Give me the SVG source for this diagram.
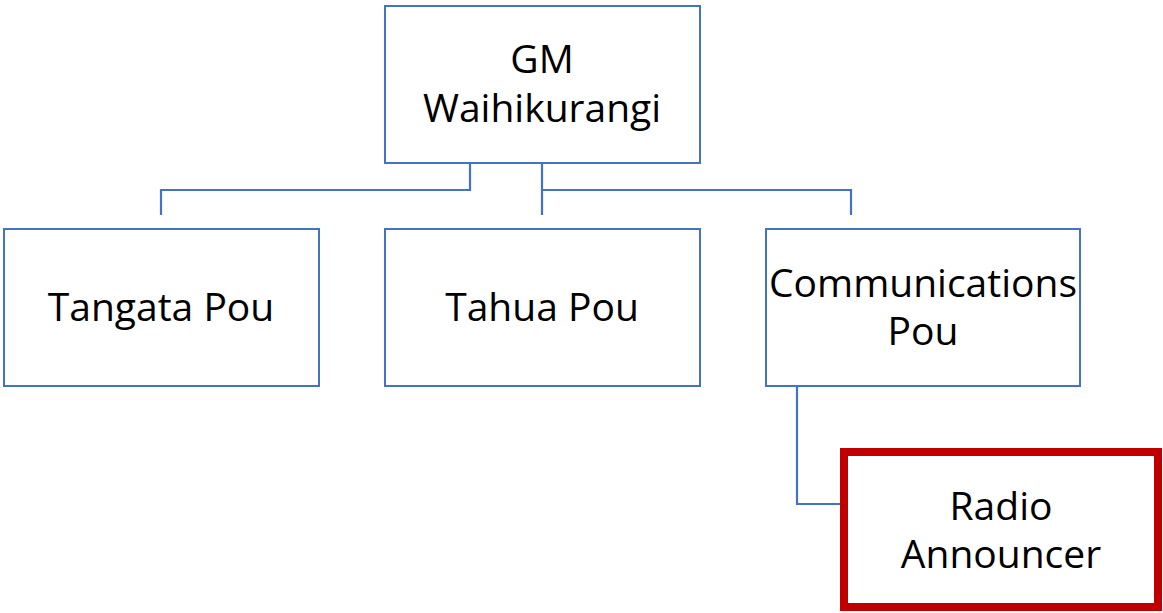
<svg xmlns="http://www.w3.org/2000/svg" width="1163" height="613" viewBox="0 0 1163 613">
<style>
.box{fill:#fff;stroke:#4472C4;stroke-width:2}
.hl{fill:#fff;stroke:#C00000;stroke-width:8}
.t{font-family:"Open Sans","Liberation Sans",sans-serif;font-size:39px;fill:#000;text-anchor:middle}
.c{fill:none;stroke:#4472C4;stroke-width:2.2}
</style>
<rect width="1163" height="613" fill="#fff"/>
<g id="connectors">
<path class="c" d="M470,163 V190 H161 V215"/>
<path class="c" d="M542,163 V215"/>
<path class="c" d="M542,190 H851 V215"/>
<path class="c" d="M797,386 V504 H840"/>
</g>
<g id="gm"><rect class="box" x="385" y="6" width="315" height="157"/>
<text class="t" x="542" y="73">GM</text><text class="t" x="542" y="122">Waihikurangi</text></g>
<g id="tangata"><rect class="box" x="4" y="229" width="315" height="157"/>
<text class="t" x="161" y="321">Tangata Pou</text></g>
<g id="tahua"><rect class="box" x="385" y="229" width="315" height="157"/>
<text class="t" x="542" y="321">Tahua Pou</text></g>
<g id="comms"><rect class="box" x="766" y="229" width="314" height="157"/>
<text class="t" x="923" y="297">Communications</text><text class="t" x="923" y="345">Pou</text></g>
<g id="radio"><rect class="hl" x="844" y="452" width="314" height="155"/>
<text class="t" x="1001" y="520">Radio</text><text class="t" x="1001" y="568">Announcer</text></g>
</svg>
